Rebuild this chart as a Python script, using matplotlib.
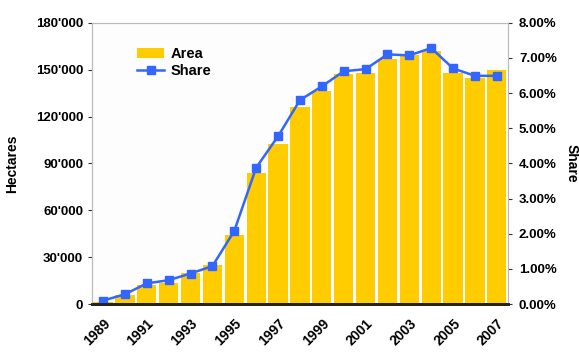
import matplotlib
matplotlib.use("Agg")
import matplotlib.pyplot as plt
from matplotlib.ticker import FuncFormatter, MultipleLocator

plt.rcParams['font.family'] = ['Liberation Sans', 'DejaVu Sans']
plt.rcParams['font.weight'] = 'bold'

# data
years = list(range(1989, 2008))
area = [1500, 5800, 12000, 13600, 19700, 25000, 44000, 84000, 102500, 126000,
        136600, 147300, 147800, 156700, 159500, 161600, 147800, 144600, 149500]
share = [0.10, 0.28, 0.59, 0.68, 0.87, 1.08, 2.08, 3.88, 4.77, 5.80,
         6.19, 6.62, 6.68, 7.10, 7.07, 7.28, 6.70, 6.49, 6.49]

fig = plt.figure(figsize=(5.79, 3.52), dpi=100)
ax = fig.add_axes([0.159, 0.136, 0.718, 0.7995])
ax2 = ax.twinx()

x = list(range(len(years)))
ax.bar(x, area, width=0.88, color='#FFCC00', label='Area', zorder=2)
ax2.plot(x, share, color='#3366FF', lw=1.8, marker='s', ms=6,
         markerfacecolor='#3366FF', markeredgecolor='#3366FF', label='Share')

ax.set_xlim(-0.5, len(years) - 0.5)
ax.set_ylim(0, 180000)
ax2.set_ylim(0, 8)

ax.yaxis.set_major_locator(MultipleLocator(30000))
ax.yaxis.set_major_formatter(FuncFormatter(
    lambda v, p: '0' if v == 0 else "{:d}'{:03d}".format(int(v) // 1000, int(v) % 1000)))
ax2.yaxis.set_major_locator(MultipleLocator(1))
ax2.yaxis.set_major_formatter(FuncFormatter(lambda v, p: '%.2f%%' % v))

ax.set_xticks(x[::2])
ax.set_xticklabels([str(y) for y in years[::2]], rotation=45, ha='right',
                   rotation_mode='anchor', fontsize=10, fontweight='bold')
ax.tick_params(axis='x', length=0, pad=9)
ax.tick_params(axis='y', labelsize=9.5, length=3, color='#333333')
ax2.tick_params(axis='y', labelsize=9.5, length=3, color='#333333', pad=5)

for a in (ax, ax2):
    for s in ['left', 'right', 'top']:
        a.spines[s].set_color('#bbbbbb')
    a.spines['bottom'].set_color('#222222')
    a.spines['bottom'].set_linewidth(2)
ax.set_facecolor('#fdfdfd')

ax.set_ylabel('Hectares', fontsize=10, fontweight='bold', labelpad=12)
ax2.set_ylabel('Share', fontsize=10, fontweight='bold', rotation=270, labelpad=16)

h1, l1 = ax.get_legend_handles_labels()
h2, l2 = ax2.get_legend_handles_labels()
ax2.legend(h1 + h2, l1 + l2, loc='upper left', bbox_to_anchor=(0.095, 0.935),
           frameon=False, fontsize=10.5, handlelength=1.8, borderaxespad=0,
           labelspacing=0.25, handletextpad=0.5)

fig.savefig('out.png', dpi=100)
